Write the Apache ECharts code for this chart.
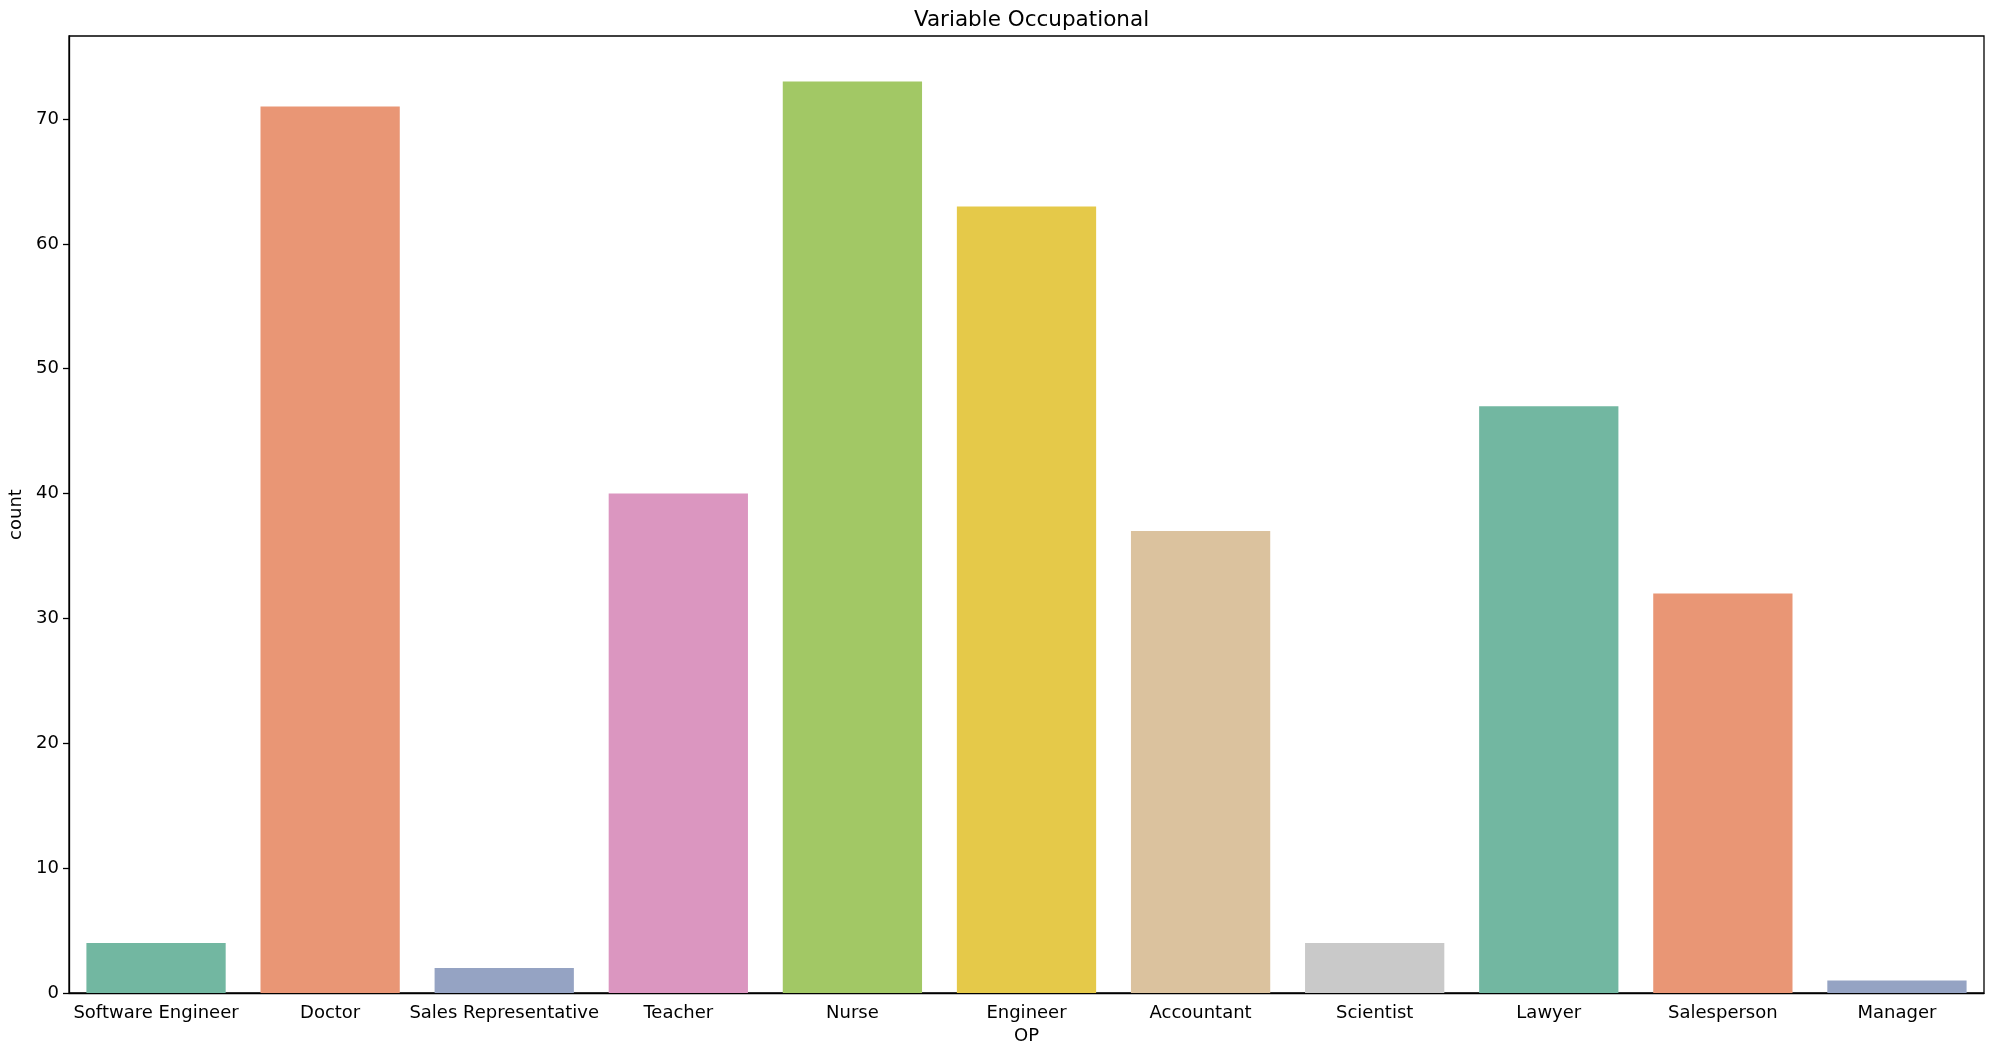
<!DOCTYPE html>
<html>
<head>
<meta charset="utf-8">
<script src="https://cdn.jsdelivr.net/npm/echarts@6/dist/echarts.min.js"></script>
<style>html,body{margin:0;padding:0;background:#fff}#c{width:1999px;height:1048px}</style>
</head>
<body>
<div id="c"></div>
<script>
const categories = ["Software Engineer","Doctor","Sales Representative","Teacher","Nurse","Engineer","Accountant","Scientist","Lawyer","Salesperson","Manager"];
const counts = [4,71,2,40,73,63,37,4,47,32,1];
const yTicks = [0,10,20,30,40,50,60,70];
const colors = ["#72b7a1","#e99675","#95a3c3","#db96c0","#a2c865","#e5c949","#dbc29e","#c9c9c9","#72b7a1","#e99675","#95a3c3"];

const font = "DejaVu Sans";
const chart = echarts.init(document.getElementById('c'), null, {renderer:'canvas'});
chart.setOption({
  animation:false,
  backgroundColor:'#fff',
  title:{text:'Variable Occupational', left:1026.5, top:4, textAlign:'center',
    textStyle:{fontFamily:font, fontSize:21.5, fontWeight:'normal', color:'#000'}},
  grid:{left:69, right:15, top:36, bottom:55, outerBoundsMode:'none', containLabel:false,
    show:true, borderColor:'#000', borderWidth:1.3, backgroundColor:'transparent'},
  xAxis:{type:'category', data:categories, name:'OP', nameLocation:'middle', nameGap:34,
    nameTextStyle:{fontFamily:font, fontSize:18, color:'#000'},
    axisLine:{lineStyle:{color:'#000', width:1.3}},
    axisTick:{alignWithLabel:true, length:6, lineStyle:{color:'#000', width:1.3}},
    axisLabel:{fontFamily:font, fontSize:18, color:'#000', margin:11, interval:0}},
  yAxis:{type:'value', min:0, max:76.65, interval:10, name:'count', nameLocation:'middle', nameGap:44,
    nameTextStyle:{fontFamily:font, fontSize:18, color:'#000'},
    axisLine:{show:true, lineStyle:{color:'#000', width:1.3}},
    axisTick:{show:true, length:6, lineStyle:{color:'#000', width:1.3}},
    axisLabel:{fontFamily:font, fontSize:18, color:'#000', margin:10, showMaxLabel:false,
      formatter:v => yTicks.includes(v) ? String(v) : ''},
    splitLine:{show:false}},
  series:[{type:'bar', barCategoryGap:'20%',
    data: counts.map((v,i)=>({value:v, itemStyle:{color:colors[i]}}))}]
});
</script>
</body>
</html>
